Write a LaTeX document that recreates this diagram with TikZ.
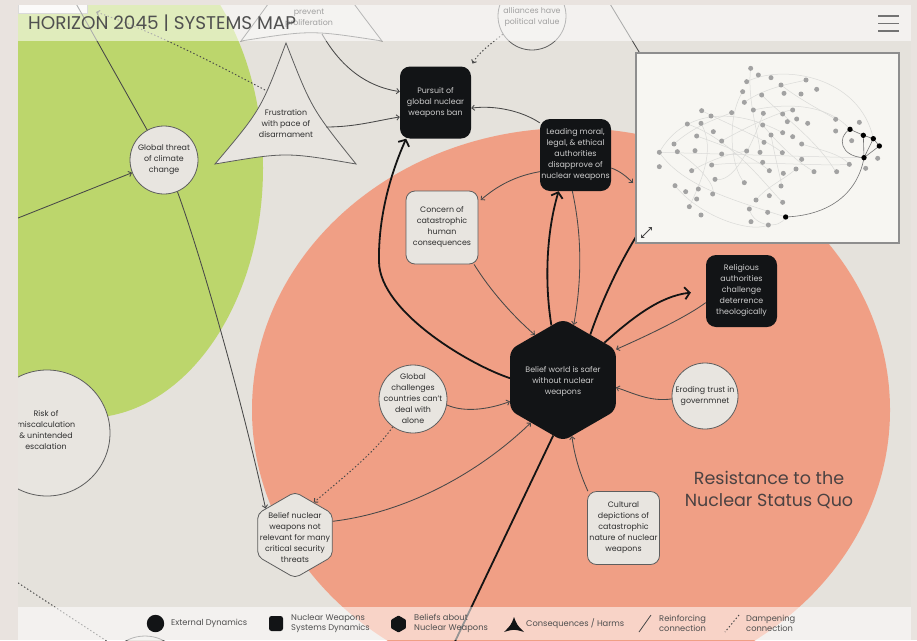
\documentclass[tikz,border=0pt]{standalone}
\usepackage{fontspec}
\setmainfont{Poppins}
\usetikzlibrary{shapes.geometric,arrows.meta}
\definecolor{pagebg}{HTML}{E9E3DF}
\definecolor{canvas}{HTML}{E5E2DC}
\definecolor{leafgreen}{HTML}{BCD66C}
\definecolor{salmon}{HTML}{F09F85}
\definecolor{lightnode}{HTML}{E8E5E0}
\definecolor{nodeline}{HTML}{5E5E5E}
\definecolor{darknode}{HTML}{121416}
\definecolor{darktext}{HTML}{CDCDCD}
\definecolor{inktext}{HTML}{2E2E2E}
\definecolor{edgecol}{HTML}{484848}
\definecolor{strongcol}{HTML}{141414}
\definecolor{mapbg}{HTML}{F7F6F2}
\definecolor{mapframe}{HTML}{8E8E8E}
\definecolor{dotgray}{HTML}{A2A2A2}
\definecolor{maplinecol}{HTML}{DADAD8}
\definecolor{leggray}{HTML}{4F4F4F}
\definecolor{titlegray}{HTML}{505050}
\definecolor{labelcol}{HTML}{4B4242}
\newcommand\mapnodefont{\fontsize{7.9}{11}\selectfont}
\newcommand\maplegfont{\fontsize{8.3}{9.8}\selectfont}
\tikzset{
 lightbox/.style={draw=nodeline, line width=0.8pt, fill=lightnode, rounded corners=9pt, minimum width=72pt, minimum height=73pt, align=center, text=inktext, inner sep=0pt},
 darkbox/.style={fill=darknode, rounded corners=10pt, minimum width=71pt, minimum height=72pt, align=center, text=darktext, inner sep=0pt},
 lightcirc/.style={circle, draw=nodeline, line width=0.8pt, fill=lightnode, inner sep=0pt},
 hexdark/.style={regular polygon, regular polygon sides=6, shape border rotate=30, fill=darknode, rounded corners=7pt, inner sep=0pt},
 hexlight/.style={regular polygon, regular polygon sides=6, shape border rotate=30, draw=nodeline, line width=0.8pt, fill=lightnode, rounded corners=5pt, inner sep=0pt},
 txt/.style={align=center, text=inktext, inner sep=0pt},
 dtxt/.style={align=center, text=darktext, inner sep=0pt},
 reinf/.style={draw=edgecol, line width=0.85pt, -{Straight Barb[length=2.8pt,width=5.4pt]}},
 plain/.style={draw=edgecol, line width=0.85pt},
 strong/.style={draw=strongcol, line width=1.8pt, -{Straight Barb[length=5pt,width=12pt]}},
 strongplain/.style={draw=strongcol, line width=1.8pt},
 damp/.style={draw=edgecol, line width=0.95pt, dash pattern=on 1.4pt off 2.2pt, -{Straight Barb[length=2.8pt,width=5.4pt]}},
 dampplain/.style={draw=edgecol, line width=0.95pt, dash pattern=on 1.4pt off 2.2pt},
 triside/.style={fill=lightnode, draw=nodeline, line width=0.8pt},
 mapline/.style={draw=maplinecol, line width=0.5pt},
 mapdark/.style={draw=black!55, line width=0.6pt},
 legtxt/.style={anchor=west, align=left, text=leggray, font=\maplegfont, inner sep=0pt},
}
\begin{document}
\begin{tikzpicture}[x=1pt,y=-1pt, every node/.style={font=\mapnodefont}]
\useasboundingbox (0,0) rectangle (917,640);
\fill[pagebg] (0,0) rectangle (917,640);
\begin{scope}
\clip (18,5) rectangle (911,640);
\fill[canvas] (18,5) rectangle (911,640);
\fill[leafgreen] (86,168) ellipse [x radius=177, y radius=250];
\fill[salmon] (571,410) ellipse [x radius=319, y radius=282];

% ---- nodes ----
\node[draw=nodeline!50, fill=mapbg, minimum width=69pt, minimum height=20pt, inner sep=0pt] (topl) at (52.5,3) {};
\node[lightcirc, minimum size=126pt] (risk) at (47,433) {};
\node[txt] (riskt) at (46,430) {Risk of\\miscalculation\\\&~unintended\\escalation};
\node[lightcirc, minimum size=80pt] (botc) at (145,676) {};

\node[lightcirc, minimum size=68pt] (gt) at (164,160) {};
\node[txt] (gtt) at (gt) {Global threat\\of climate\\change};

\path[triside] (311,-60) .. controls (275,-5) .. (241,41) .. controls (311,30) .. (382,41) .. controls (347,-5) .. cycle;
\node[txt] (prev) at (309,18) {prevent\\proliferation};
\coordinate (prevb) at (322,34);

\path[triside] (286,43) .. controls (261,109.5) .. (215,164) .. controls (286,152) .. (356,164) .. controls (311.7,108.8) .. cycle;
\node[txt] (frus) at (286,124) {Frustration\\with pace of\\disarmament};
\coordinate (frusl) at (265,90);
\coordinate (frusr) at (326,127);

\node[lightcirc, minimum size=68pt] (all) at (532,16) {};
\node[txt] (allt) at (532,17.5) {alliances have\\political value};

\node[darkbox] (pur) at (435.5,102.5) {Pursuit of\\global nuclear\\weapons ban};
\node[darkbox] (lead) at (575.5,155) {Leading moral,\\legal, \& ethical\\authorities\\disapprove of\\nuclear weapons};
\node[lightbox] (conc) at (442,227.5) {Concern of\\catastrophic\\human\\consequences};
\node[darkbox] (rel) at (741.5,291) {Religious\\authorities\\challenge\\deterrence\\theologically};
\node[lightbox] (cult) at (623.5,528) {Cultural\\depictions of\\catastrophic\\nature of nuclear\\weapons};

\node[lightcirc, minimum size=66pt] (erode) at (705,396) {};
\node[txt] (erodet) at (erode) {Eroding trust in\\governmnet};
\node[lightcirc, minimum size=68pt] (gch) at (413,399) {};
\node[txt] (gcht) at (gch) {Global\\challenges\\countries can't\\deal with\\alone};

\node[hexdark, minimum size=122pt] (bws) at (563,380) {};
\node[dtxt] (bwst) at (563,382) {Belief world is safer\\without nuclear\\weapons};
\node[hexlight, minimum size=86pt] (bnr) at (295,535) {};
\node[txt] (bnrt) at (295,538) {Belief nuclear\\weapons not\\relevant for many\\critical security\\threats};

\node[align=center, text=labelcol, inner sep=0pt, font=\fontsize{17.5}{22}\selectfont] (label) at (769,490) {Resistance to the\\Nuclear Status Quo};

% ---- connectors ----
\coordinate (lin) at (8,222);
\draw[reinf] (lin) -- (gt);
\coordinate (gtup) at (74,0);
\draw[plain] (gt) -- (gtup);
\draw[reinf] (gt.-67) .. controls (203,262) and (243,405) .. (bnr.138);
\coordinate (dtl) at (96,12);
\draw[damp] (frusl) .. controls (212,62) and (150,30) .. (dtl);
\draw[reinf] (prevb) .. controls (338,62) and (362,86) .. (pur.163);
\draw[reinf] (frusr) .. controls (355,127) and (375,121) .. (pur.202);
\draw[damp, shorten >=3pt] (all.212) .. controls (492,43) and (478,53) .. (pur.north east);
\coordinate (topra) at (604,-6);
\coordinate (toprb) at (650,70);
\draw[plain] (topra) -- (toprb);
\draw[reinf] (lead.138) .. controls (522,111) and (495,105) .. (pur.-9);
\draw[reinf, shorten >=3pt] (lead.205) .. controls (515,176) and (497,186) .. (conc.35);
\coordinate (leadx) at (633,183);
\draw[reinf] (lead.-20) .. controls (620,171) and (627,177) .. (leadx);
\draw[reinf] (conc.-49) .. controls (490,290) and (512,315) .. (bws.122);
\draw[strong] (bws.102) .. controls (544,280) and (547,230) .. (lead.-115);
\draw[reinf] (lead.-95) .. controls (582,235) and (582,280) .. (bws.79);
\draw[strong] (bws.178) .. controls (470,365) and (380,312) .. (379,262) .. controls (378,215) and (392,170) .. (pur.231);
\coordinate (mmc) at (648,218);
\draw[strongplain] (bws.59) .. controls (605,292) and (625,252) .. (mmc);
\draw[strong, shorten >=15pt] (bws.42) .. controls (632,318) and (660,296) .. (rel.west);
\draw[reinf] (rel.198) .. controls (685,318) and (642,338) .. (bws.30);
\draw[reinf] (erode.185) .. controls (650,402) and (633,393) .. (bws.-8);
\draw[reinf] (gch.-10) .. controls (465,413) and (490,409) .. (bws.202);
\draw[damp] (gch.234) .. controls (375,452) and (345,476) .. (bnr.60);
\draw[reinf] (bnr.20) .. controls (410,512) and (482,470) .. (bws.233);
\coordinate (bwsb) at (450,652);
\draw[strongplain] (bws.260) -- (bwsb);
\draw[reinf] (cult.134) .. controls (582,478) and (575,460) .. (bws.-81);
\coordinate (bls) at (0,571);
\draw[dampplain] (bls) -- (botc.135);

% ---- minimap ----
\fill[mapbg] (636,53) rectangle (899,243);
\begin{scope}[shift={(400,0)}, x=0.33333pt, y=-0.33333pt]
\clip (708,160) rectangle (1497,728);
\foreach \pa/\pb/\pc/\pd/\pe/\pf/\pg/\ph in {
778/457/850/330/1000/320/1148/398,
778/457/900/460/1200/470/1392/473,
778/457/850/560/1000/600/1157/651,
825/557/900/650/1050/700/1105/675,
862/372/1000/420/1100/560/1148/607,
903/370/950/450/900/550/868/620,
1028/275/980/350/990/500/1033/548,
1085/285/1150/350/1250/420/1307/515,
1060/330/1200/300/1300/330/1350/388,
1090/340/1050/450/1000/550/945/538,
1088/375/1150/450/1200/490/1242/515,
905/332/1000/380/1100/420/1147/458,
935/495/1050/480/1250/500/1348/493,
1052/205/1040/300/1080/420/1080/457,
1143/255/1200/300/1280/340/1307/358,
1068/600/1100/560/1150/540/1188/507,
1048/627/1060/680/1140/690/1157/651,
832/455/900/500/950/560/938/582,
1113/405/1130/500/1150/560/1143/558,
1040/245/1150/190/1380/230/1420/416,
890/408/980/440/1060/470/1108/512,
965/423/1040/380/1150/330/1178/330,
822/432/880/380/940/360/995/338,
1033/307/1100/260/1180/250/1218/240,
875/512/950/470/1000/460/1040/453,
1205/432/1260/450/1320/460/1348/493}
 \draw[mapline] (\pa,\pb) .. controls (\pc,\pd) and (\pe,\pf) .. (\pg,\ph);
\draw[mapdark] (1157,651) .. controls (1300,645) and (1375,570) .. (1392,473);
\draw[mapdark] (1350,388) -- (1390,406) -- (1420,416) -- (1438,438) -- (1392,473) -- (1390,406);
\draw[mapdark] (1420,416) -- (1392,473);
\draw[mapdark] (1350,388) .. controls (1310,410) and (1320,470) .. (1392,473);
\foreach \da/\db in {1052/205,1075/225,1113/233,1040/245,1143/255,1218/240,1250/268,1028/275,1085/285,1152/280,1203/282,1033/307,1060/330,1090/340,1148/342,1178/330,905/332,933/348,995/338,862/372,903/370,1088/375,1162/365,1190/357,1223/370,1307/358,1378/367,1307/393,890/408,940/395,965/423,1113/405,1148/398,1178/410,1205/432,822/432,778/457,832/455,885/452,965/462,1040/453,1080/457,1147/458,1092/427,1088/487,1205/478,1355/422,1433/475,1348/493,1397/505,778/500,935/495,875/512,1108/512,1150/520,1188/507,1242/515,1310/515,945/538,1033/548,1143/558,825/557,857/575,895/567,938/582,890/597,1068/600,1108/587,1148/607,868/620,903/645,1048/627,1103/637,1053/665,1105/675}
 \fill[dotgray] (\da,\db) circle [radius=7.5];
\foreach \da/\db in {1350/388,1390/406,1420/416,1438/438,1392/473,1157/651}
 \fill[black] (\da,\db) circle [radius=8];
\end{scope}
\draw[mapframe, line width=1.5pt] (636,53) rectangle (899,243);
\draw[edgecol, line width=0.8pt, {Straight Barb[length=2.2pt,width=4pt]}-{Straight Barb[length=2.2pt,width=4pt]}] (641,238) -- (652,227);

% ---- header ----
\fill[white, opacity=0.55] (18,5) rectangle (911,41);
\node[anchor=base west, font=\fontsize{18.4}{20}\selectfont, text=titlegray, inner sep=0pt] (title) at (28,29) {HORIZON 2045 | SYSTEMS MAP};
\draw[black!55, line width=1.2pt] (878,16) -- (899,16) (878,23.5) -- (899,23.5) (878,31) -- (899,31);

% ---- legend ----
\fill[white, opacity=0.55] (18,607) rectangle (911,640);
\fill[darknode] (155.5,623.5) circle [radius=8.7];
\node[legtxt] (lg1) at (171,623.5) {External Dynamics};
\node[fill=darknode, rounded corners=2.5pt, minimum width=14pt, minimum height=15pt, inner sep=0pt] (lg2s) at (276,623.5) {};
\node[legtxt] (lg2) at (291,623.5) {Nuclear Weapons\\Systems Dynamics};
\node[regular polygon, regular polygon sides=6, shape border rotate=30, fill=darknode, rounded corners=0.8pt, minimum size=17pt, inner sep=0pt] (lg3s) at (398.5,624) {};
\node[legtxt] (lg3) at (414,623.5) {Beliefs about\\Nuclear Weapons};
\fill[darknode] (514,617) .. controls (511,625) .. (504,632) .. controls (514,629) .. (524,632) .. controls (517,625) .. cycle;
\node[legtxt] (lg4) at (526,624) {Consequences / Harms};
\draw[edgecol, line width=0.8pt] (651,615) -- (639,632);
\node[legtxt] (lg5) at (659,623.5) {Reinforcing\\connection};
\draw[dampplain] (739,615) -- (725,632);
\node[legtxt] (lg6) at (746,623.5) {Dampening\\connection};
\end{scope}
\end{tikzpicture}
\end{document}
